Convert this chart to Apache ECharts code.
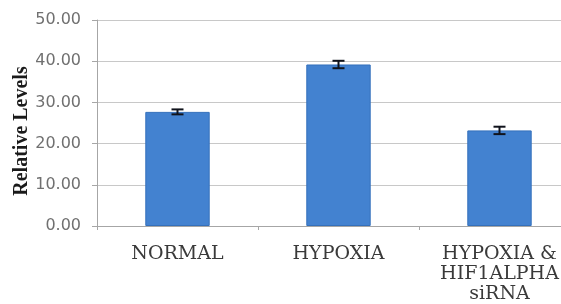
<!DOCTYPE html>
<html>
<head>
<meta charset="utf-8">
<script src="https://cdn.jsdelivr.net/npm/echarts@6/dist/echarts.min.js"></script>
<style>
  html, body { margin: 0; padding: 0; background: #fff; }
  #chart { width: 561px; height: 304px; }
</style>
</head>
<body>
<div id="chart"></div>
<script>
const categories = ['NORMAL', 'HYPOXIA', 'HYPOXIA &\nHIF1ALPHA\nsiRNA']
const levels = [27.7, 39.2, 23.2]
const errors = [0.6, 0.9, 0.9]
const yTicks = { min: 0, max: 50, interval: 10 }

const chart = echarts.init(document.getElementById('chart'))

chart.setOption({
  animation: false,
  // plot runs past the right edge of the picture (cropped original)
  grid: { left: 97, top: 20, bottom: 78, right: -19, outerBoundsMode: 'none' },
  xAxis: {
    type: 'category',
    data: categories,
    axisLine: { lineStyle: { color: '#a6a6a6' } },
    axisTick: { show: true, length: 4, lineStyle: { color: '#a6a6a6' } },
    axisLabel: {
      interval: 0,
      hideOverlap: false,
      margin: 18,
      color: '#3a3a3a',
      fontFamily: 'DejaVu Serif',
      fontSize: 19,
      lineHeight: 20
    }
  },
  yAxis: {
    type: 'value',
    min: yTicks.min,
    max: yTicks.max,
    interval: yTicks.interval,
    name: 'Relative Levels',
    nameLocation: 'middle',
    nameGap: 65,
    nameMoveOverlap: false,
    nameTextStyle: {
      color: '#1a1a1a',
      fontFamily: 'Liberation Serif',
      fontWeight: 'bold',
      fontSize: 20,
      padding: [0, 16, 0, 0]
    },
    axisLine: { show: true, lineStyle: { color: '#a6a6a6' } },
    axisTick: { show: true, length: 5, lineStyle: { color: '#a6a6a6' } },
    splitLine: { lineStyle: { color: '#c8c8c8' } },
    axisLabel: {
      margin: 16,
      color: '#707070',
      fontFamily: 'DejaVu Sans',
      fontSize: 16,
      formatter: (v) => v.toFixed(2)
    }
  },
  series: [
    {
      type: 'bar',
      data: levels,
      barWidth: '40%',
      itemStyle: { color: '#4382d0', borderColor: '#3470bb', borderWidth: 1 }
    },
    {
      type: 'custom',
      data: levels.map((v, i) => [i, v - errors[i], v + errors[i]]),
      renderItem: (params, api) => {
        const lo = api.coord([api.value(0), api.value(1)])
        const hi = api.coord([api.value(0), api.value(2)])
        const w = 6
        const style = { stroke: '#10131c', lineWidth: 2 }
        return {
          type: 'group',
          children: [
            { type: 'line', shape: { x1: lo[0], y1: lo[1], x2: hi[0], y2: hi[1] }, style },
            { type: 'line', shape: { x1: lo[0] - w, y1: lo[1], x2: lo[0] + w, y2: lo[1] }, style },
            { type: 'line', shape: { x1: hi[0] - w, y1: hi[1], x2: hi[0] + w, y2: hi[1] }, style }
          ]
        }
      },
      z: 10
    }
  ]
})
</script>
</body>
</html>
